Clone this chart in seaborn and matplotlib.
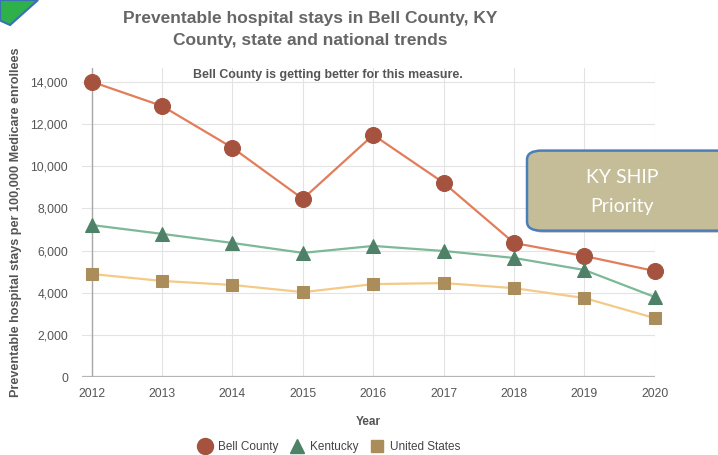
import matplotlib
matplotlib.use("Agg")
import matplotlib.pyplot as plt
from matplotlib.lines import Line2D
from matplotlib.patches import FancyBboxPatch, Polygon
import seaborn as sns
import pandas as pd

years = [2012, 2013, 2014, 2015, 2016, 2017, 2018, 2019, 2020]
bell_county = [14000, 12850, 10870, 8450, 11480, 9210, 6360, 5740, 5030]
kentucky = [7210, 6790, 6360, 5890, 6220, 5980, 5650, 5080, 3800]
united_states = [4890, 4560, 4370, 4030, 4410, 4460, 4220, 3750, 2800]

series_names = ["Bell County", "Kentucky", "United States"]
line_colors = ["#e27d5c", "#7db898", "#f4ca88"]
marker_colors = ["#a5523f", "#4e8167", "#ab8d5c"]
marker_shapes = ["o", "^", "s"]
marker_sizes = [11.5, 10.5, 8.5]

sns.set_theme(style="white")
plt.rcParams["font.family"] = ["Liberation Sans", "DejaVu Sans"]

df = pd.DataFrame({"Year": years, "Bell County": bell_county,
                   "Kentucky": kentucky, "United States": united_states})

fig = plt.figure(figsize=(7.18, 4.55), dpi=100)
ax = fig.add_axes([0.114, 0.171, 0.798, 0.68])

for name, lc, mc, m, ms in zip(series_names, line_colors, marker_colors,
                               marker_shapes, marker_sizes):
    sns.lineplot(data=df, x="Year", y=name, ax=ax, color=lc, linewidth=1.6,
                 marker=m, markersize=ms, markerfacecolor=mc,
                 markeredgecolor=mc, zorder=3, clip_on=False)

ax.set_xlim(2011.86, 2020.0)
ax.set_ylim(0, 14660)
ax.set_xticks(years)
ax.set_yticks(range(0, 14001, 2000))
ax.set_yticklabels([f"{v:,}" for v in range(0, 14001, 2000)])
ax.grid(True, color="#e3e3e3", linewidth=0.8)
for s in ax.spines.values():
    s.set_visible(False)
ax.axhline(0, color="#b5b5b5", linewidth=1.6, zorder=2)
ax.axvline(2012, color="#a8a8a8", linewidth=1.0, zorder=2)
ax.tick_params(axis="both", labelsize=8.7, colors="#555555", length=0)
ax.tick_params(axis="y", pad=10)
ax.tick_params(axis="x", pad=8)

ax.set_xlabel("Year", fontsize=8.5, fontweight="bold", color="#555555", labelpad=11)
ax.set_ylabel("Preventable hospital stays per 100,000 Medicare enrollees",
              fontsize=9.1, fontweight="bold", color="#555555")
ax.yaxis.set_label_coords(-0.104, 0.5)

fig.text(0.432, 0.96, "Preventable hospital stays in Bell County, KY",
         ha="center", va="center", fontsize=12.5, fontweight="bold", color="#666666")
fig.text(0.432, 0.912, "County, state and national trends",
         ha="center", va="center", fontsize=12.5, fontweight="bold", color="#666666")
fig.text(0.457, 0.835, "Bell County is getting better for this measure.",
         ha="center", va="center", fontsize=8.9, fontweight="bold", color="#555555")

handles = [Line2D([], [], linestyle="none", marker=m, markersize=ms,
                  markerfacecolor=mc, markeredgecolor=mc)
           for m, mc, ms in zip(marker_shapes, marker_colors, marker_sizes)]
fig.legend(handles, series_names, loc="center", bbox_to_anchor=(0.455, 0.018),
           ncol=3, frameon=False, fontsize=8.5, handletextpad=0.1,
           columnspacing=0.6, labelcolor="#444444")

# decorative shape in top-left corner
fig.patches.append(Polygon([[0, 1], [0.053, 1], [0.014, 0.945], [0, 0.955]],
                           closed=True, transform=fig.transFigure,
                           facecolor="#2eb14a", edgecolor="#3b6fb6",
                           linewidth=1.5, zorder=5))

# callout box
shadow = FancyBboxPatch((0.738, 0.488), 0.3, 0.172,
                        boxstyle="round,pad=0,rounding_size=0.02",
                        transform=fig.transFigure, facecolor="#999999",
                        edgecolor="none", alpha=0.5, zorder=5)
box = FancyBboxPatch((0.734, 0.493), 0.3, 0.176,
                     boxstyle="round,pad=0,rounding_size=0.02",
                     transform=fig.transFigure, facecolor="#c4bd97",
                     edgecolor="#4a7ebb", linewidth=1.8, zorder=6)
fig.patches.append(shadow)
fig.patches.append(box)
fig.text(0.866, 0.579, "KY SHIP\nPriority", ha="center", va="center",
         fontsize=14, color="white", family=["Lato", "DejaVu Sans"],
         linespacing=1.85, zorder=7)

fig.savefig("out.png", dpi=100)
